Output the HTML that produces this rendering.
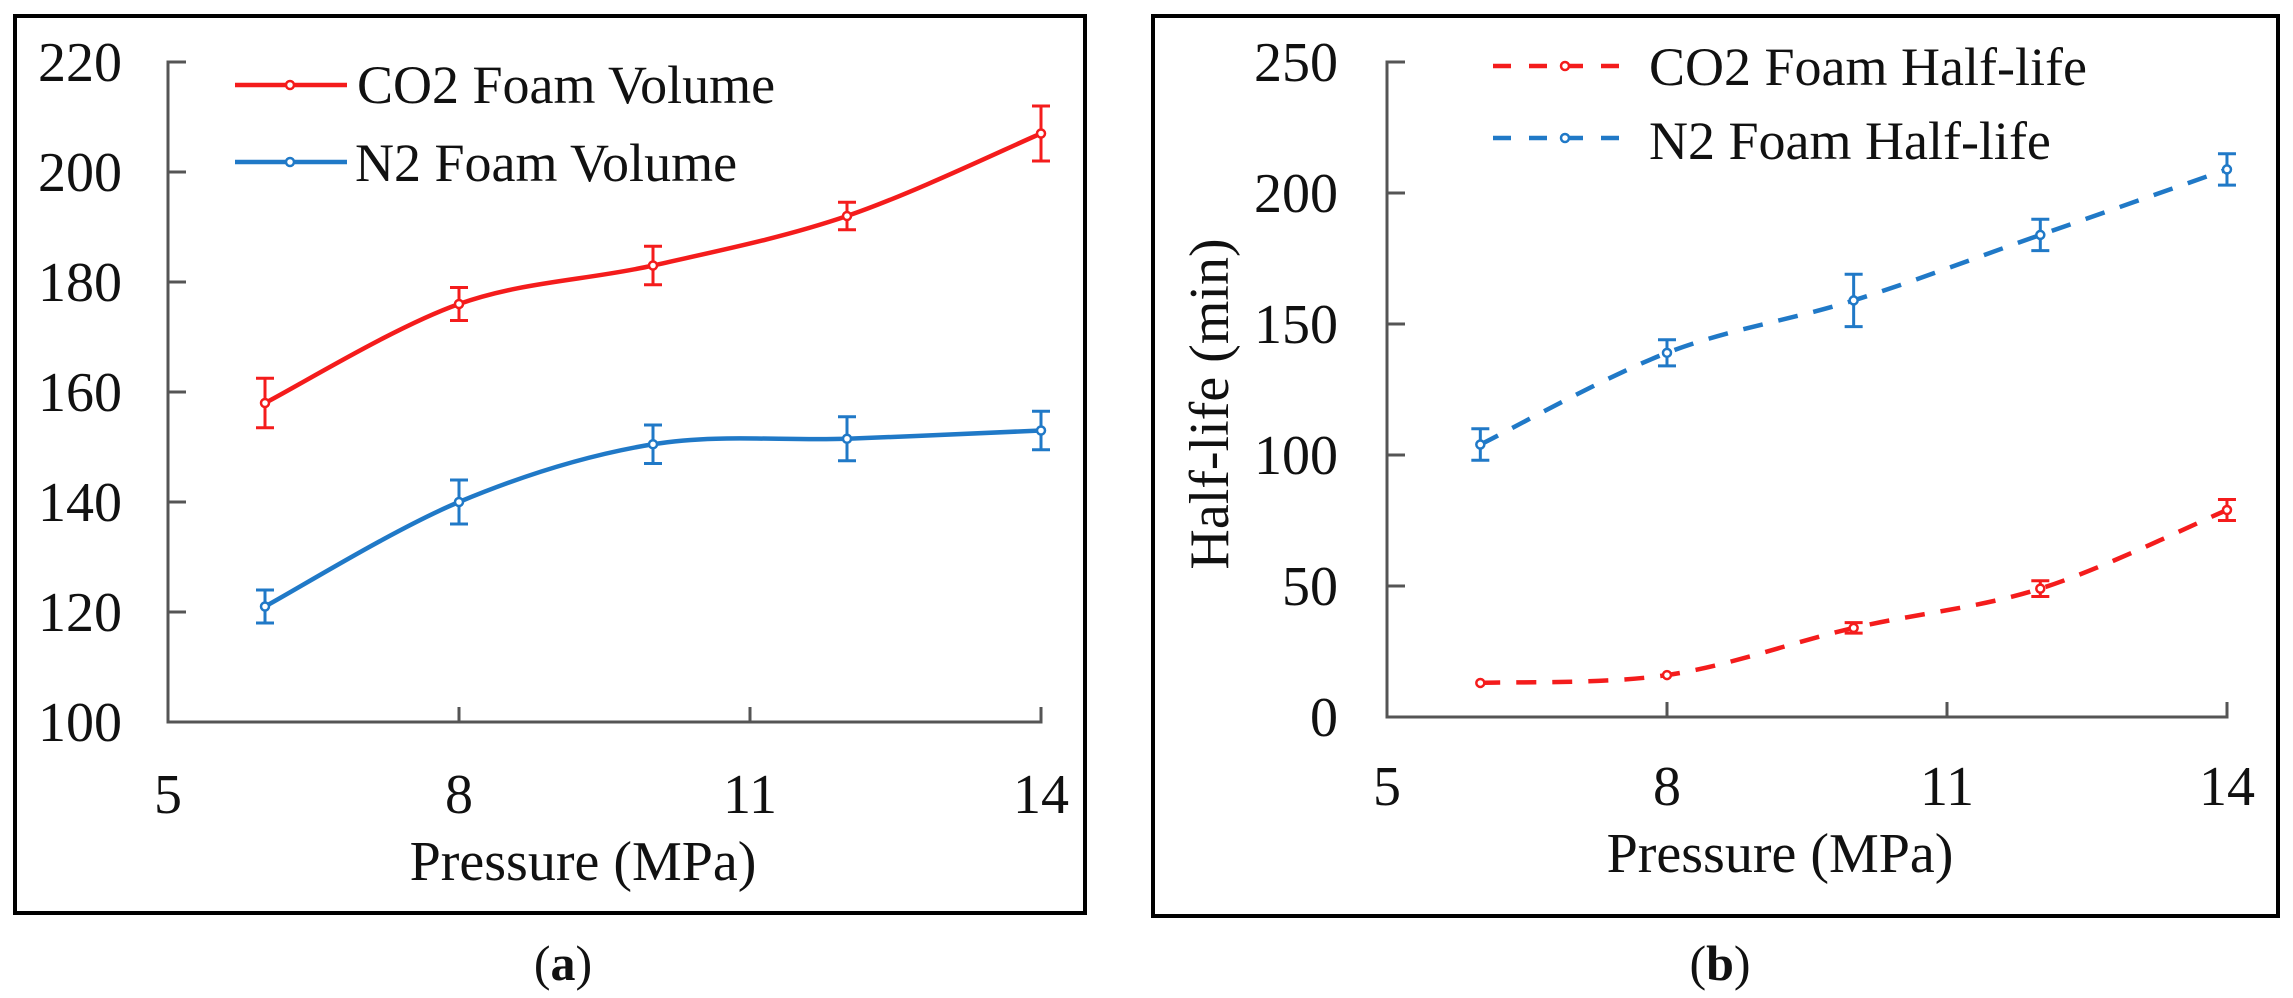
<!DOCTYPE html>
<html><head><meta charset="utf-8"><style>
html,body{margin:0;padding:0;background:#fff;}
svg{display:block;font-family:"Liberation Serif","DejaVu Serif",serif;}
svg text{font-family:"Liberation Serif","DejaVu Serif",serif;fill:#111;}
</style></head><body>
<svg id="s" width="2293" height="998" viewBox="0 0 2293 998" xmlns="http://www.w3.org/2000/svg" font-family="Liberation Serif, DejaVu Serif, serif">
<rect x="15" y="16" width="1070" height="897" fill="none" stroke="#000" stroke-width="4"/>
<rect x="1153" y="16" width="1125" height="900" fill="none" stroke="#000" stroke-width="4"/>
<g font-size="56" text-anchor="end">
<text x="122" y="81">220</text><text x="122" y="191">200</text><text x="122" y="301">180</text>
<text x="122" y="411">160</text><text x="122" y="521">140</text><text x="122" y="631">120</text><text x="122" y="741">100</text>
<text x="1338" y="81">250</text><text x="1338" y="212">200</text><text x="1338" y="343">150</text>
<text x="1338" y="474">100</text><text x="1338" y="605">50</text><text x="1338" y="736">0</text>
</g>
<g font-size="56" text-anchor="middle">
<text x="168" y="813">5</text><text x="459" y="813">8</text><text x="750" y="813">11</text><text x="1041" y="813">14</text>
<text x="1387" y="805">5</text><text x="1667" y="805">8</text><text x="1947" y="805">11</text><text x="2227" y="805">14</text>
<text x="583" y="880">Pressure (MPa)</text>
<text x="1780" y="872">Pressure (MPa)</text>
<text x="1210" y="404" transform="rotate(-90 1210 404)" dy="18">Half-life (min)</text>
<text x="563" y="980" font-size="50">(<tspan font-weight="bold">a</tspan>)</text>
<text x="1720" y="980" font-size="50">(<tspan font-weight="bold">b</tspan>)</text>
</g>
<g font-size="54">
<text x="357" y="103">CO2 Foam Volume</text>
<text x="355" y="181">N2 Foam Volume</text>
<text x="1649" y="85">CO2 Foam Half-life</text>
<text x="1649" y="159">N2 Foam Half-life</text>
</g>
<g stroke="#555" stroke-width="3" fill="none">
<path d="M186 62H168V722H1041V707"/>
<path d="M168 172h18M168 282h18M168 392h18M168 502h18M168 612h18M459 722v-15M750 722v-15"/>
<path d="M1405 62H1387V717H2227V702"/>
<path d="M1387 193h18M1387 324h18M1387 455h18M1387 586h18M1667 717v-15M1947 717v-15"/>
</g>
<g stroke-width="4.5" fill="none">
<line x1="235" y1="85" x2="347" y2="85" stroke="#f41c1c"/>
<circle cx="290" cy="85" r="4" stroke="#f41c1c" fill="#fff" stroke-width="2.5"/>
<line x1="235" y1="162" x2="347" y2="162" stroke="#2079c7"/>
<circle cx="290" cy="162" r="4" stroke="#2079c7" fill="#fff" stroke-width="2.5"/>
<line x1="1493" y1="66" x2="1623" y2="66" stroke="#f41c1c" stroke-dasharray="18,18"/>
<circle cx="1565" cy="66" r="4" stroke="#f41c1c" fill="#fff" stroke-width="2.5"/>
<line x1="1493" y1="138" x2="1623" y2="138" stroke="#2079c7" stroke-dasharray="18,18"/>
<circle cx="1565" cy="138" r="4" stroke="#2079c7" fill="#fff" stroke-width="2.5"/>
</g>
<g id="data"></g>
</svg>
<script>
var NS="http://www.w3.org/2000/svg",g=document.getElementById("data");
function el(t,a){var e=document.createElementNS(NS,t);for(var k in a)e.setAttribute(k,a[k]);g.appendChild(e);return e;}
function series(xs,ys,es,X,Y,col,dash){
 var P=xs.map(function(x,i){return [X(x),Y(ys[i])];});
 var d="M"+P[0][0]+" "+P[0][1];
 for(var i=0;i<P.length-1;i++){
  var p0=P[i-1]||P[i],p1=P[i],p2=P[i+1],p3=P[i+2]||P[i+1];
  var c1=[p1[0]+(p2[0]-p0[0])/6,p1[1]+(p2[1]-p0[1])/6],c2=[p2[0]-(p3[0]-p1[0])/6,p2[1]-(p3[1]-p1[1])/6];
  d+=" C"+c1+" "+c2+" "+p2;
 }
 var a={d:d,fill:"none",stroke:col,"stroke-width":4.5};
 if(dash)a["stroke-dasharray"]="20,16";
 el("path",a);
 P.forEach(function(p,i){
  var t=Y(ys[i]+es[i]),b=Y(ys[i]-es[i]);
  if(es[i]>0)el("path",{d:"M"+p[0]+" "+t+"V"+b+"M"+(p[0]-9)+" "+t+"h18M"+(p[0]-9)+" "+b+"h18",stroke:col,"stroke-width":3,fill:"none"});
  el("circle",{cx:p[0],cy:p[1],r:4,stroke:col,fill:"#fff","stroke-width":2.5});
 });
}
var Xa=function(x){return 168+(x-5)*97;},Ya=function(v){return 722-(v-100)*5.5;};
series([6,8,10,12,14],[158,176,183,192,207],[4.5,3,3.5,2.5,5],Xa,Ya,"#f41c1c",false);
series([6,8,10,12,14],[121,140,150.5,151.5,153],[3,4,3.5,4,3.5],Xa,Ya,"#2079c7",false);
var Xb=function(x){return 1387+(x-5)*93.33;},Yb=function(v){return 717-v*2.62;};
series([6,8,10,12,14],[13,16,34,49,79],[0,0,2,3,4],Xb,Yb,"#f41c1c",true);
series([6,8,10,12,14],[104,139,159,184,209],[6,5,10,6,6],Xb,Yb,"#2079c7",true);
</script>
</body></html>
